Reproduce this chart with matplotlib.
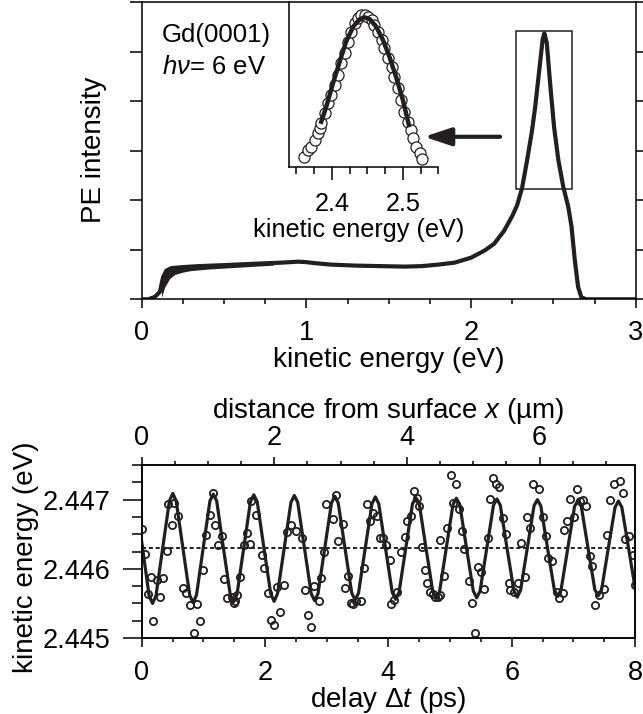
import numpy as np
import matplotlib
matplotlib.use("Agg")
import matplotlib.pyplot as plt
from matplotlib.patches import Rectangle
from matplotlib.ticker import MultipleLocator, FormatStrFormatter

plt.rcParams['font.family'] = ['Liberation Sans', 'DejaVu Sans']
plt.rcParams['mathtext.fontset'] = 'custom'
plt.rcParams['mathtext.rm'] = 'Liberation Sans'
plt.rcParams['mathtext.it'] = 'Liberation Sans:italic'

# ---- top panel: photoemission spectrum ----
spec_E = [0.00, 0.04, 0.08, 0.11, 0.13, 0.15, 0.18, 0.25, 0.35, 0.50, 0.70, 0.85,
          0.95, 1.00, 1.05, 1.15, 1.30, 1.45, 1.60, 1.70, 1.80, 1.90, 2.00, 2.08,
          2.14, 2.20, 2.25, 2.28, 2.31, 2.34, 2.37, 2.39, 2.415, 2.435, 2.445,
          2.46, 2.48, 2.504, 2.53, 2.56, 2.59, 2.61, 2.63, 2.65, 2.67, 2.70, 3.00]
spec_I = [0.00, 0.00, 0.05, 0.15, 0.45, 0.58, 0.63, 0.65, 0.67, 0.69, 0.72, 0.74,
          0.76, 0.75, 0.73, 0.70, 0.68, 0.67, 0.66, 0.67, 0.70, 0.74, 0.84, 0.98,
          1.12, 1.38, 1.68, 1.90, 2.25, 2.80, 3.40, 3.90, 4.65, 5.25, 5.37,
          5.17, 4.36, 3.48, 2.81, 2.27, 1.87, 1.47, 0.79, 0.25, 0.04, 0.00, 0.00]
# noisy low-energy part: upper / lower edge of the trace
noise_E = [0.12, 0.14, 0.17, 0.20, 0.25, 0.30, 0.40, 0.50, 0.65, 0.80]
noise_hi = [0.35, 0.60, 0.66, 0.67, 0.68, 0.69, 0.70, 0.71, 0.72, 0.73]
noise_lo = [0.04, 0.25, 0.42, 0.50, 0.55, 0.58, 0.61, 0.63, 0.66, 0.69]

# ---- inset: peak region (normalised intensity) ----
ins_E = [2.360, 2.366, 2.371, 2.376, 2.380, 2.383, 2.385, 2.390, 2.394, 2.399,
         2.404, 2.409, 2.413, 2.418, 2.423, 2.427, 2.432, 2.437, 2.441, 2.446,
         2.451, 2.456, 2.460, 2.465, 2.470, 2.474, 2.479, 2.484, 2.488, 2.493,
         2.498, 2.502, 2.507, 2.512, 2.514, 2.519, 2.524, 2.527]
ins_I = [0.061, 0.102, 0.122, 0.162, 0.202, 0.233, 0.263, 0.324, 0.385, 0.435,
         0.496, 0.557, 0.628, 0.689, 0.759, 0.820, 0.870, 0.901, 0.921, 0.921,
         0.911, 0.891, 0.860, 0.820, 0.769, 0.719, 0.658, 0.607, 0.547, 0.476,
         0.405, 0.334, 0.273, 0.223, 0.172, 0.122, 0.081, 0.045]
ins_fit_E = [2.385, 2.392, 2.4015, 2.411, 2.420, 2.430, 2.439, 2.446, 2.453,
             2.4625, 2.472, 2.481, 2.491, 2.500, 2.5085]
ins_fit_I = [0.273, 0.364, 0.506, 0.638, 0.759, 0.850, 0.895, 0.907, 0.897,
             0.850, 0.769, 0.668, 0.537, 0.405, 0.253]

# ---- bottom panel: peak position vs delay ----
t_data = [0.00, 0.05, 0.10, 0.15, 0.19, 0.25, 0.30, 0.35, 0.41, 0.43, 0.49, 0.52,
          0.59, 0.67, 0.72, 0.79, 0.85, 0.90, 0.95, 1.00, 1.05, 1.11, 1.16, 1.19,
          1.24, 1.30, 1.34, 1.39, 1.46, 1.49, 1.51, 1.54, 1.59, 1.66, 1.70, 1.75,
          1.78, 1.85, 1.95, 1.98, 2.04, 2.09, 2.14, 2.19, 2.25, 2.30, 2.35, 2.42,
          2.50, 2.60, 2.65, 2.70, 2.75, 2.80, 2.87, 2.90, 2.95, 2.99, 3.10, 3.15,
          3.19, 3.26, 3.30, 3.35, 3.39, 3.43, 3.48, 3.55, 3.61, 3.65, 3.70, 3.75,
          3.82, 3.87, 3.91, 3.96, 4.02, 4.05, 4.09, 4.14, 4.20, 4.27, 4.30, 4.36,
          4.42, 4.47, 4.50, 4.54, 4.60, 4.63, 4.68, 4.73, 4.76, 4.80, 4.84, 4.84,
          4.90, 4.95, 5.01, 5.05, 5.10, 5.15, 5.19, 5.23, 5.30, 5.35, 5.41, 5.46,
          5.50, 5.55, 5.61, 5.65, 5.70, 5.75, 5.80, 5.86, 5.91, 5.95, 5.98, 6.04,
          6.11, 6.15, 6.22, 6.25, 6.30, 6.35, 6.45, 6.51, 6.56, 6.59, 6.65, 6.73,
          6.77, 6.83, 6.85, 6.89, 6.95, 7.01, 7.06, 7.11, 7.16, 7.21, 7.27, 7.31,
          7.35, 7.41, 7.49, 7.54, 7.60, 7.66, 7.76, 7.81, 7.84, 7.91, 7.96, 8.00]
E_data = [2.44657, 2.44621, 2.44564, 2.44588, 2.44524, 2.44584, 2.44560, 2.44587,
          2.44626, 2.44693, 2.44664, 2.44695, 2.44676, 2.44572, 2.44565, 2.44548,
          2.44507, 2.44549, 2.44524, 2.44598, 2.44649, 2.44678, 2.44709, 2.44664,
          2.44635, 2.44647, 2.44585, 2.44558, 2.44560, 2.44550, 2.44553, 2.44562,
          2.44588, 2.44635, 2.44652, 2.44636, 2.44698, 2.44678, 2.44620, 2.44601,
          2.44565, 2.44526, 2.44519, 2.44574, 2.44537, 2.44577, 2.44653, 2.44664,
          2.44655, 2.44645, 2.44570, 2.44533, 2.44516, 2.44575, 2.44554, 2.44587,
          2.44625, 2.44693, 2.44672, 2.44707, 2.44640, 2.44665, 2.44573, 2.44590,
          2.44551, 2.44549, 2.44553, 2.44553, 2.44601, 2.44694, 2.44669, 2.44681,
          2.44676, 2.44644, 2.44644, 2.44635, 2.44613, 2.44549, 2.44555, 2.44567,
          2.44625, 2.44646, 2.44669, 2.44676, 2.44712, 2.44702, 2.44691, 2.44632,
          2.44598, 2.44579, 2.44567, 2.44564, 2.44560, 2.44560, 2.44642, 2.44562,
          2.44589, 2.44659, 2.44735, 2.44695, 2.44722, 2.44686, 2.44654, 2.44628,
          2.44583, 2.44550, 2.44507, 2.44602, 2.44596, 2.44571, 2.44644, 2.44701,
          2.44731, 2.44722, 2.44718, 2.44673, 2.44651, 2.44579, 2.44570, 2.44566,
          2.44580, 2.44638, 2.44588, 2.44675, 2.44659, 2.44722, 2.44716, 2.44675,
          2.44647, 2.44616, 2.44612, 2.44567, 2.44558, 2.44565, 2.44656, 2.44669,
          2.44701, 2.44675, 2.44715, 2.44698, 2.44699, 2.44691, 2.44619, 2.44604,
          2.44548, 2.44562, 2.44571, 2.44649, 2.44699, 2.44723, 2.44727, 2.44709,
          2.44643, 2.44647, 2.44620, 2.44577]

# fitted oscillation (extrema, +-30 deg points, crossings)
t_fit = [0.000, 0.120, 0.176, 0.231, 0.340, 0.449, 0.504, 0.559, 0.668, 0.778,
         0.833, 0.888, 0.997, 1.106, 1.161, 1.216, 1.325, 1.435, 1.490, 1.545,
         1.654, 1.763, 1.818, 1.873, 1.982, 2.092, 2.147, 2.202, 2.311, 2.420,
         2.475, 2.530, 2.639, 2.749, 2.804, 2.859, 2.968, 3.077, 3.132, 3.187,
         3.296, 3.406, 3.461, 3.516, 3.625, 3.734, 3.789, 3.844, 3.953, 4.063,
         4.118, 4.173, 4.282, 4.391, 4.446, 4.501, 4.610, 4.720, 4.775, 4.830,
         4.939, 5.048, 5.103, 5.158, 5.267, 5.377, 5.432, 5.487, 5.596, 5.705,
         5.760, 5.815, 5.924, 6.034, 6.089, 6.144, 6.253, 6.362, 6.417, 6.472,
         6.581, 6.691, 6.746, 6.801, 6.910, 7.019, 7.074, 7.129, 7.238, 7.348,
         7.403, 7.458, 7.567, 7.676, 7.731, 7.786, 7.895, 8.000]
E_fit = [2.44639, 2.44561, 2.44550, 2.44561, 2.44630, 2.44698, 2.44709, 2.44698,
         2.44630, 2.44562, 2.44551, 2.44562, 2.44630, 2.44698, 2.44708, 2.44698,
         2.44630, 2.44563, 2.44552, 2.44563, 2.44630, 2.44697, 2.44707, 2.44697,
         2.44630, 2.44564, 2.44553, 2.44564, 2.44630, 2.44696, 2.44706, 2.44696,
         2.44630, 2.44564, 2.44554, 2.44564, 2.44630, 2.44695, 2.44705, 2.44695,
         2.44630, 2.44565, 2.44555, 2.44565, 2.44630, 2.44694, 2.44704, 2.44694,
         2.44630, 2.44566, 2.44556, 2.44566, 2.44630, 2.44694, 2.44703, 2.44694,
         2.44630, 2.44567, 2.44557, 2.44567, 2.44630, 2.44693, 2.44702, 2.44693,
         2.44630, 2.44568, 2.44558, 2.44568, 2.44630, 2.44692, 2.44701, 2.44692,
         2.44630, 2.44569, 2.44559, 2.44569, 2.44630, 2.44691, 2.44700, 2.44691,
         2.44630, 2.44570, 2.44560, 2.44570, 2.44630, 2.44690, 2.44699, 2.44690,
         2.44630, 2.44570, 2.44561, 2.44570, 2.44630, 2.44689, 2.44698, 2.44689,
         2.44630, 2.44573]
E_mean = 2.4463
x_max_um = 7.44   # distance scale matching 8 ps

ink = '#231f20'
lw_sp = 1.1
fs_tick = 19.5
fs_label = 20
fs_inset = 18.2

fig = plt.figure(figsize=(6.43, 7.14), dpi=100)

# top panel
ax1 = fig.add_axes([0.2204, 0.5808, 0.7683, 0.4164])
ax1.fill_between(noise_E, noise_lo, noise_hi, color=ink, lw=0)
ax1.plot(spec_E, spec_I, color=ink, lw=3, solid_joinstyle='round')
ax1.set_xlim(0, 3)
ax1.set_ylim(0, 6)
ax1.xaxis.set_major_locator(MultipleLocator(1))
ax1.xaxis.set_minor_locator(MultipleLocator(0.25))
ax1.yaxis.set_major_locator(MultipleLocator(1))
ax1.tick_params(axis='y', which='both', left=True, right=True, labelleft=False,
                direction='out', length=8.4, width=lw_sp)
ax1.tick_params(axis='x', which='major', length=6.5, width=lw_sp, pad=8.4,
                labelsize=fs_tick)
ax1.tick_params(axis='x', which='minor', length=3.4, width=lw_sp)
ax1.set_xlabel('kinetic energy (eV)', fontsize=fs_label)
ax1.xaxis.set_label_coords(0.5, -0.159)
ax1.set_ylabel('PE intensity', fontsize=fs_label)
ax1.yaxis.set_label_coords(-0.070, 0.504)
for s in ax1.spines.values():
    s.set_linewidth(lw_sp)
ax1.add_patch(Rectangle((2.27, 2.22), 0.344, 3.2, fill=False, lw=1.1, ec=ink))
ax1.annotate('', xy=(1.715, 3.28), xytext=(2.176, 3.28),
             arrowprops=dict(arrowstyle='-|>,head_length=0.9,head_width=0.3',
                             lw=3, color=ink, mutation_scale=18,
                             shrinkA=0, shrinkB=0))
ax1.text(0.124, 5.19, 'Gd(0001)', va='baseline', ha='left', fontsize=18.5)
ax1.text(0.124, 4.55, r'$h\nu$= 6 eV', va='baseline', ha='left', fontsize=18.5)

# inset
axi = fig.add_axes([0.450, 0.7665, 0.2317, 0.2307])
axi.plot(ins_E, ins_I, 'o', ms=8, mfc='white', mec=ink, mew=0.9)
axi.plot(ins_fit_E, ins_fit_I, color=ink, lw=3.2)
axi.set_xlim(2.34, 2.55)
axi.set_ylim(0, 1)
axi.patch.set_alpha(0)
axi.spines['top'].set_visible(False)
axi.spines['right'].set_visible(False)
for s in ('left', 'bottom'):
    axi.spines[s].set_linewidth(lw_sp)
axi.set_yticks([])
axi.xaxis.set_major_locator(MultipleLocator(0.1))
axi.xaxis.set_minor_locator(MultipleLocator(0.025))
axi.tick_params(axis='x', which='major', length=9.5, width=lw_sp, pad=9,
                labelsize=fs_inset)
axi.tick_params(axis='x', which='minor', length=4.8, width=lw_sp)
axi.set_xlabel('kinetic energy (eV)', fontsize=fs_inset)
axi.xaxis.set_label_coords(0.463, -0.31)

# bottom panel
ax2 = fig.add_axes([0.2204, 0.1064, 0.7672, 0.2423])
ax2.plot(t_fit, E_fit, color=ink, lw=2.3, solid_joinstyle='round')
ax2.axhline(E_mean, color=ink, lw=1.4, dashes=(2.1, 1.4))
ax2.plot(t_data, E_data, 'o', ms=5.2, mfc='none', mec=ink, mew=1.3)
ax2.set_xlim(0, 8)
ax2.set_ylim(2.445, 2.4475)
ax2.xaxis.set_major_locator(MultipleLocator(2))
ax2.xaxis.set_minor_locator(MultipleLocator(0.5))
ax2.yaxis.set_major_locator(MultipleLocator(0.001))
ax2.yaxis.set_minor_locator(MultipleLocator(0.00025))
ax2.yaxis.set_major_formatter(FormatStrFormatter('%.3f'))
ax2.tick_params(axis='y', which='major', length=14, width=lw_sp, pad=8.5,
                labelsize=fs_tick)
ax2.tick_params(axis='y', which='minor', length=7, width=lw_sp)
ax2.tick_params(axis='x', which='major', length=6.5, width=lw_sp, pad=9.2,
                labelsize=fs_tick)
ax2.tick_params(axis='x', which='minor', length=3.2, width=lw_sp)
ax2.set_xlabel(r'delay $\Delta t$ (ps)', fontsize=fs_label)
ax2.xaxis.set_label_coords(0.5, -0.272)
ax2.set_ylabel('kinetic energy (eV)', fontsize=fs_label)
ax2.yaxis.set_label_coords(-0.208, 0.468)
for s in ax2.spines.values():
    s.set_linewidth(lw_sp)

ax3 = ax2.twiny()
ax3.set_xlim(0, x_max_um)
ax3.xaxis.set_major_locator(MultipleLocator(2))
ax3.xaxis.set_minor_locator(MultipleLocator(0.5))
ax3.tick_params(axis='x', which='major', length=5.8, width=lw_sp, pad=4.3,
                labelsize=fs_tick)
ax3.tick_params(axis='x', which='minor', length=3.2, width=lw_sp)
ax3.set_xlabel(r'distance from surface $x$ (µm)', fontsize=fs_label)
ax3.xaxis.set_label_coords(0.5, 1.27)
for s in ax3.spines.values():
    s.set_linewidth(lw_sp)

fig.savefig('out.png', dpi=100)
